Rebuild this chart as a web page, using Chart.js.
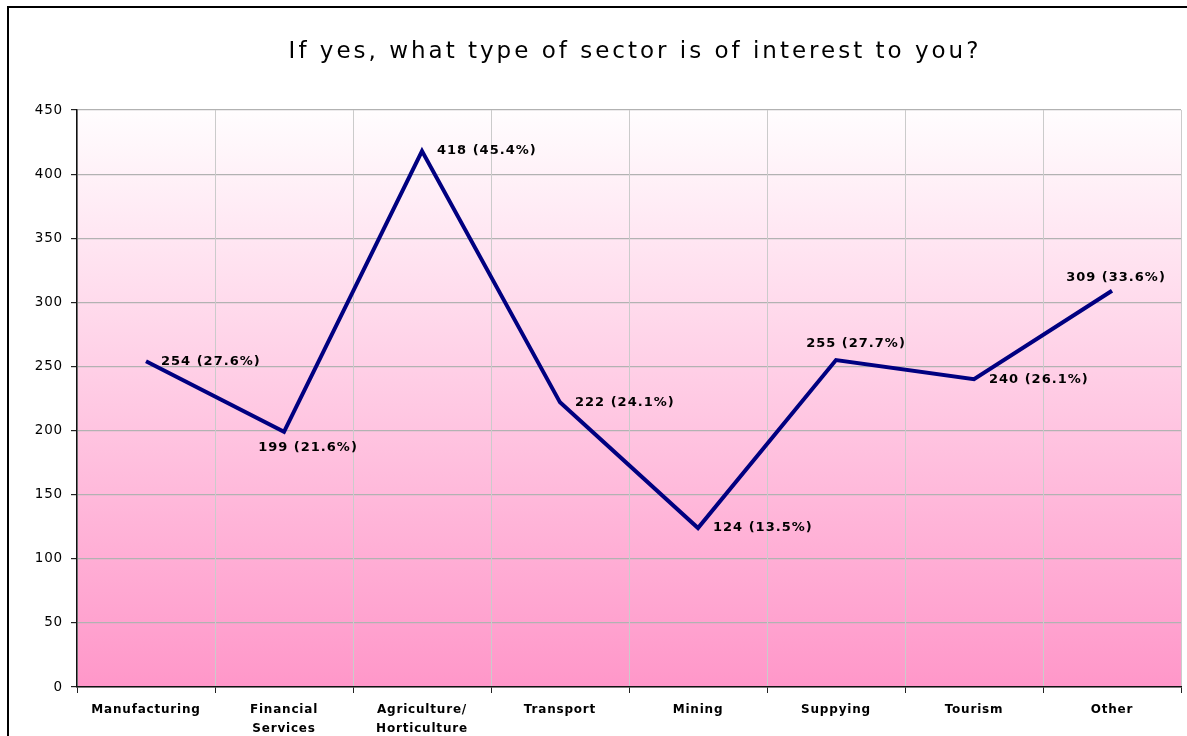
<!DOCTYPE html>
<html>
<head>
<meta charset="utf-8">
<script src="https://cdn.jsdelivr.net/npm/chart.js@4.4.0/dist/chart.umd.min.js"></script>
<style>
  html, body { margin: 0; padding: 0; background: #fff; }
  #wrap { position: relative; width: 1187px; height: 736px; }
  #frame { position: absolute; left: 7px; top: 6px; width: 1200px; height: 800px; border-left: 2px solid #000; border-top: 2px solid #000; }
  canvas { position: absolute; left: 0; top: 0; }
</style>
</head>
<body>
<div id="wrap">
  <div id="frame"></div>
  <canvas id="sectorChart" width="1187" height="736"></canvas>
</div>
<script>
const chartTitle = 'If yes, what type of sector is of interest to you?';
const categories = ["Manufacturing", ["Financial", "Services"], ["Agriculture/", "Horticulture"], "Transport", "Mining", "Suppying", "Tourism", "Other"];
const counts = [254, 199, 418, 222, 124, 255, 240, 309];
const percents = [27.6, 21.6, 45.4, 24.1, 13.5, 27.7, 26.1, 33.6];
const labelPlacement = ["right", "below", "right", "right", "right", "above", "right", "top"];

// where each kind of label sits relative to its point
const placements = {
  right: { align: 'left', dx: 15, dy: 0 },
  below: { align: 'center', dx: 24, dy: 16 },
  above: { align: 'center', dx: 20, dy: -16 },
  top: { align: 'center', dx: 4, dy: -13 }
};

// pink gradient behind the plot area; also widen the axis text a bit
const plotBackground = {
  id: 'plotBackground',
  beforeDraw(chart) {
    const { ctx, chartArea: a } = chart;
    ctx.letterSpacing = '0.8px';
    const g = ctx.createLinearGradient(0, a.top, 0, a.bottom);
    g.addColorStop(0, '#fffdfe');
    g.addColorStop(1, '#ff97c9');
    ctx.save();
    ctx.fillStyle = g;
    ctx.fillRect(a.left, a.top, a.right - a.left, a.bottom - a.top);
    ctx.restore();
  }
};

// title drawn by hand so it can get the wide letter spacing
const wideTitle = {
  id: 'wideTitle',
  afterDraw(chart) {
    const { ctx, chartArea: a } = chart;
    ctx.save();
    ctx.letterSpacing = '3px';
    ctx.font = '23px "DejaVu Sans"';
    ctx.fillStyle = '#000';
    ctx.textAlign = 'center';
    ctx.textBaseline = 'middle';
    ctx.fillText(chartTitle, (a.left + a.right) / 2 + 6, 52);
    ctx.restore();
  }
};

// "254 (27.6%)" style labels next to each point
const pointLabels = {
  id: 'pointLabels',
  afterDatasetsDraw(chart) {
    const { ctx } = chart;
    const meta = chart.getDatasetMeta(0);
    ctx.save();
    ctx.letterSpacing = '1px';
    ctx.font = 'bold 13px "DejaVu Sans"';
    ctx.fillStyle = '#000';
    ctx.textBaseline = 'middle';
    meta.data.forEach((pt, i) => {
      const txt = counts[i] + ' (' + percents[i].toFixed(1) + '%)';
      const p = placements[labelPlacement[i]];
      ctx.textAlign = p.align;
      ctx.fillText(txt, pt.x + p.dx, pt.y + p.dy);
    });
    ctx.restore();
  }
};

const ctx = document.getElementById('sectorChart').getContext('2d');

new Chart(ctx, {
  type: 'line',
  data: {
    labels: categories,
    datasets: [{
      data: counts,
      borderColor: '#000080',
      borderWidth: 4,
      pointRadius: 0,
      tension: 0,
      fill: false
    }]
  },
  options: {
    responsive: false,
    animation: false,
    layout: { padding: { left: 0, right: 6, top: 110, bottom: 0 } },
    plugins: {
      legend: { display: false },
      tooltip: { enabled: false },
      title: { display: false }
    },
    scales: {
      y: {
        min: 0,
        max: 450,
        ticks: { stepSize: 50, color: '#000', font: { family: 'DejaVu Sans', size: 13.5 }, padding: 8 },
        grid: { color: '#b2b2b2', lineWidth: 1.2, tickLength: 6, tickColor: '#222' },
        border: { color: '#111', width: 1.5 },
        afterFit(scale) { scale.width = 77; }
      },
      x: {
        offset: true,
        ticks: { color: '#000', font: { family: 'DejaVu Sans', size: 12, weight: 'bold', lineHeight: 1.55 }, maxRotation: 0, padding: 8 },
        grid: { offset: true, color: '#cbcbcb', lineWidth: 1, tickLength: 6, tickColor: '#222' },
        border: { color: '#111', width: 1.5 },
        afterFit(scale) { scale.height = 49; }
      }
    }
  },
  plugins: [plotBackground, wideTitle, pointLabels]
});
</script>
</body>
</html>
